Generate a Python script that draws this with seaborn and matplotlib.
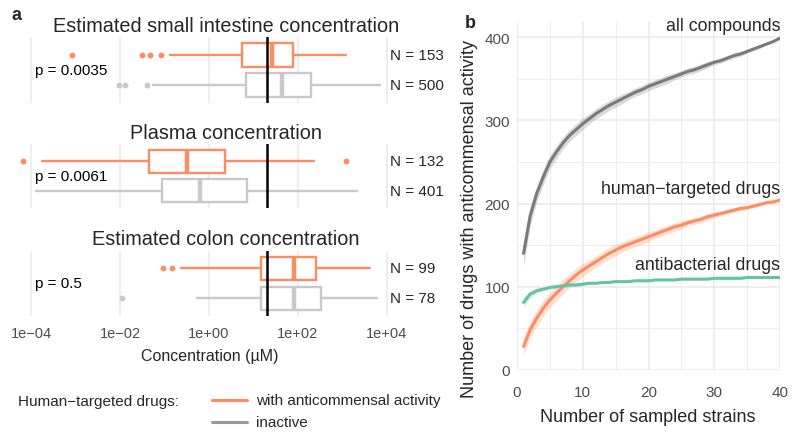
import matplotlib
matplotlib.use("Agg")
import matplotlib.pyplot as plt
from matplotlib.ticker import NullLocator
import seaborn as sns
import pandas as pd
import numpy as np

# ---- panel a: box summaries, log10(concentration in µM) ----
panel_titles = ["Estimated small intestine concentration",
                "Plasma concentration",
                "Estimated colon concentration"]
p_labels = ["p = 0.0035", "p = 0.0061", "p = 0.5"]
n_active = [153, 132, 99]
n_inactive = [500, 401, 78]

active_q1 = [0.75, -1.36, 1.16]
active_med = [1.42, -0.49, 1.91]
active_q3 = [1.89, 0.35, 2.40]
active_lo = [-0.87, -3.75, -0.62]
active_hi = [3.09, 2.36, 3.62]
active_out = [[-3.08, -1.51, -1.32, -1.09], [-4.19, 3.09], [-1.03, -0.83]]

inactive_q1 = [0.84, -1.06, 1.16]
inactive_med = [1.65, -0.21, 1.91]
inactive_q3 = [2.30, 0.86, 2.53]
inactive_lo = [-1.25, -3.89, -0.28]
inactive_hi = [3.84, 3.34, 3.79]
inactive_out = [[-2.02, -1.88, -1.39], [], [-1.96]]

threshold_um = 20
conc_ticks = [1e-4, 1e-2, 1e0, 1e2, 1e4]
conc_tick_labels = ["1e\u221204", "1e\u221202", "1e+00", "1e+02", "1e+04"]

# ---- panel b: rarefaction curves ----
strains = list(range(1, 41))
all_compounds = [140, 185, 212, 232, 250, 262, 273, 282, 289, 296,
                 302, 308, 313, 318, 322, 326, 330, 334, 337, 341,
                 344, 347, 350, 353, 356, 359, 361, 364, 367, 370,
                 372, 375, 378, 380, 383, 386, 389, 392, 395, 399]
human_targeted = [28, 48, 62, 74, 84, 92, 100, 107, 114, 120,
                  125, 130, 135, 140, 144, 148, 151, 154, 157, 160,
                  163, 166, 169, 172, 174, 177, 179, 181, 184, 186,
                  188, 190, 192, 194, 195, 197, 199, 201, 202, 204]
antibacterial = [81, 91, 95, 97, 99, 100, 101, 102, 102, 103,
                 104, 104, 105, 105, 106, 106, 106, 107, 107, 107,
                 108, 108, 108, 108, 109, 109, 109, 109, 109, 110,
                 110, 110, 110, 110, 111, 111, 111, 111, 111, 111]
all_band = [16, 12, 10, 9, 8, 8, 7, 7, 7, 7, 6, 6, 6, 6, 6, 6, 5, 5, 5, 5,
            5, 5, 5, 4, 4, 4, 4, 4, 4, 3, 3, 3, 3, 3, 2, 2, 2, 1, 1, 0]
human_band = [10, 10, 10, 10, 9, 9, 9, 8, 8, 8, 7, 7, 7, 7, 7, 6, 6, 6, 6, 6,
              5, 5, 5, 5, 5, 4, 4, 4, 4, 4, 3, 3, 3, 3, 2, 2, 2, 1, 1, 0]
anti_band = [6, 4, 3, 2, 2, 2, 2, 2, 2, 2, 1, 1, 1, 1, 1, 1, 1, 1, 1, 1,
             1, 1, 1, 1, 1, 1, 1, 1, 1, 1, 1, 1, 1, 1, 1, 1, 1, 1, 1, 0]
group_names = ["all compounds", "human\u2212targeted drugs", "antibacterial drugs"]

ORANGE = "#FC8D62"
LIGHT_GREY = "#C9C9C9"
DARK_GREY = "#7A7A7A"
GREEN = "#66C2A5"
GRID = "#EBEBEB"
TICK = "#4D4D4D"

sns.set_theme(style="white")
plt.rcParams["font.family"] = ["Liberation Sans", "DejaVu Sans"]

W, H = 800, 439
fig = plt.figure(figsize=(W / 100, H / 100), dpi=100)


def px_axes(x0, y0, x1, y1):
    return fig.add_axes([x0 / W, 1 - y1 / H, (x1 - x0) / W, (y1 - y0) / H])


def px_text(x, y, s, **kw):
    fig.text(x / W, 1 - y / H, s, **kw)


# ---------- panel a ----------
panel_px = [(38, 104), (145, 209), (251.5, 317)]
title_base = [32.5, 139.5, 245]
for i, (y0, y1) in enumerate(panel_px):
    ax = px_axes(18, y0, 388, y1)
    ax.set_facecolor("white")
    for s in ax.spines.values():
        s.set_visible(False)
    stats = []
    for q1, med, q3, lo, hi, out in [
        (active_q1[i], active_med[i], active_q3[i], active_lo[i], active_hi[i], active_out[i]),
        (inactive_q1[i], inactive_med[i], inactive_q3[i], inactive_lo[i], inactive_hi[i], inactive_out[i]),
    ]:
        stats.append(dict(q1=10 ** q1, med=10 ** med, q3=10 ** q3,
                          whislo=10 ** lo, whishi=10 ** hi,
                          fliers=10 ** np.array(out, dtype=float)))
    for pos, st, col in zip([0, 1], stats, [ORANGE, LIGHT_GREY]):
        ax.bxp([st], positions=[pos], widths=0.78, orientation="horizontal",
               showcaps=False, patch_artist=True,
               boxprops=dict(facecolor="white", edgecolor=col, linewidth=1.7),
               whiskerprops=dict(color=col, linewidth=1.7),
               medianprops=dict(color=col, linewidth=3.2),
               flierprops=dict(marker="o", markersize=3.2, markerfacecolor=col,
                               markeredgecolor=col, linestyle="none"),
               manage_ticks=False)
    ax.axvline(threshold_um, color="black", linewidth=1.8, zorder=5)
    ax.set_xscale("log")
    ax.set_xlim(10 ** -4.3, 10 ** 4.03)
    ax.set_ylim(1.6, -0.6)
    ax.set_xticks(conc_ticks)
    ax.xaxis.set_minor_locator(NullLocator())
    ax.set_yticks([])
    ax.grid(axis="x", color=GRID, linewidth=1.2)
    ax.set_axisbelow(True)
    ax.tick_params(axis="x", length=0, pad=7, labelsize=10.5, labelcolor=TICK)
    if i == 2:
        ax.set_xticklabels(conc_tick_labels)
    else:
        ax.set_xticklabels([])
    ax.text(0.045, 0.5, p_labels[i], transform=ax.transAxes, ha="left",
            va="center", fontsize=11, color="black")
    ax.text(1.006, 1 - 0.6 / 2.2, f"N = {n_active[i]}",
            transform=ax.transAxes, ha="left", va="center", fontsize=11, clip_on=False)
    ax.text(1.006, 0.6 / 2.2, f"N = {n_inactive[i]}",
            transform=ax.transAxes, ha="left", va="center", fontsize=11, clip_on=False)
    px_text(226, title_base[i], panel_titles[i], ha="center", va="baseline", fontsize=14.3)

px_text(210, 357, "Concentration (\u00b5M)", ha="center", va="center", fontsize=11.5)
px_text(12, 20.5, "a", ha="left", va="baseline", fontsize=13, fontweight="bold")

# legend
px_text(18, 402, "Human\u2212targeted drugs:", ha="left", va="center", fontsize=11)
legend_ax = px_axes(200, 390, 460, 434)
legend_ax.set_axis_off()
legend_ax.set_xlim(200, 460)
legend_ax.set_ylim(434, 390)
legend_ax.plot([212, 247], [401, 401], color=ORANGE, linewidth=2.2)
legend_ax.plot([212, 247], [423, 423], color="#9A9A9A", linewidth=2.2)
legend_ax.text(256, 401.5, "with anticommensal activity", ha="left", va="center", fontsize=11)
legend_ax.text(256, 423.5, "inactive", ha="left", va="center", fontsize=11)

# ---------- panel b ----------
axb = px_axes(517, 21.7, 780, 370.7)
df = pd.DataFrame({
    "strains": strains * 3,
    "drugs": all_compounds + human_targeted + antibacterial,
    "group": [group_names[0]] * 40 + [group_names[1]] * 40 + [group_names[2]] * 40,
})
palette = {group_names[0]: DARK_GREY, group_names[1]: ORANGE, group_names[2]: GREEN}
for name, vals, band in [(group_names[0], all_compounds, all_band),
                         (group_names[1], human_targeted, human_band),
                         (group_names[2], antibacterial, anti_band)]:
    v = np.array(vals, dtype=float)
    b = np.array(band, dtype=float)
    axb.fill_between(strains, v - b, v + b, color=palette[name], alpha=0.28,
                     linewidth=0, zorder=2)
sns.lineplot(data=df, x="strains", y="drugs", hue="group", palette=palette,
             linewidth=2.2, legend=False, errorbar=None, ax=axb, zorder=3)
axb.set_xlim(0, 40)
axb.set_ylim(0, 420)
axb.set_xticks([0, 10, 20, 30, 40])
axb.set_xticks([5, 15, 25, 35], minor=True)
axb.set_yticks([0, 100, 200, 300, 400])
axb.set_yticks([50, 150, 250, 350], minor=True)
axb.grid(which="major", color=GRID, linewidth=1.2)
axb.grid(which="minor", color=GRID, linewidth=0.6)
axb.set_axisbelow(True)
for s in axb.spines.values():
    s.set_visible(False)
axb.tick_params(which="both", length=0)
axb.tick_params(axis="x", pad=11, labelsize=11, labelcolor=TICK)
axb.tick_params(axis="y", pad=5, labelsize=11, labelcolor=TICK)
axb.set_xlabel("")
axb.set_ylabel("")
px_text(648, 418, "Number of sampled strains", ha="center", va="center", fontsize=13)
px_text(470, 219, "Number of drugs with anticommensal activity", ha="center",
        va="center", rotation=90, fontsize=13)
axb.text(40, 414, group_names[0], ha="right", va="center", fontsize=12.8)
axb.text(40, 218, group_names[1], ha="right", va="center", fontsize=12.8)
axb.text(40, 126, group_names[2], ha="right", va="center", fontsize=12.8)
px_text(465, 27.5, "b", ha="left", va="baseline", fontsize=13, fontweight="bold")

fig.savefig("out.png", dpi=100)
